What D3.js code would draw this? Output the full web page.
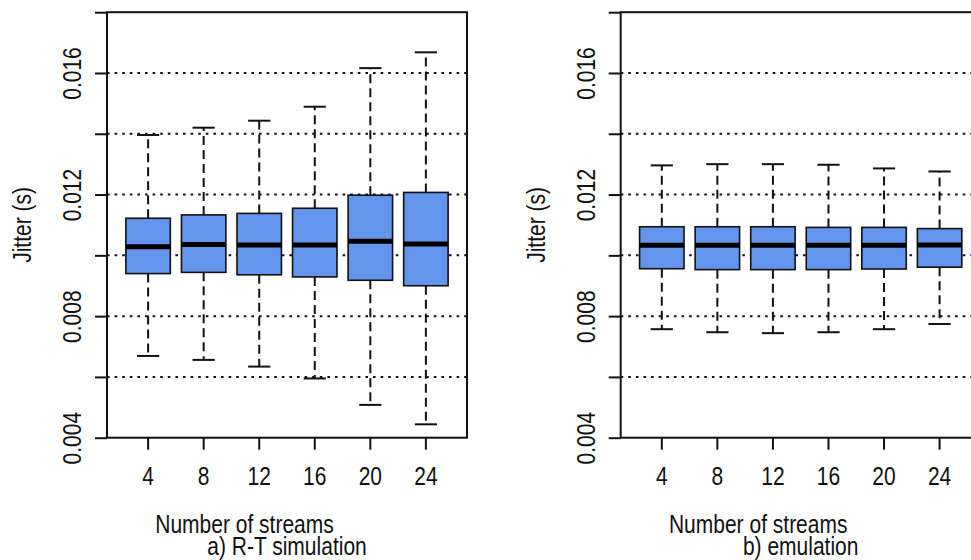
<!DOCTYPE html>
<html>
<head>
<meta charset="utf-8">
<script src="https://cdn.jsdelivr.net/npm/d3@7"></script>
<style>
  html, body { margin: 0; padding: 0; background: #fff; }
  svg { display: block; }
  text { font-family: "Liberation Sans Narrow", "Arial Narrow", "Liberation Sans", Arial, sans-serif; fill: #111; }
</style>
</head>
<body>
<svg id="chart" width="971" height="560"></svg>
<script>
// Number of concurrent streams (x categories)
const streams = [4, 8, 12, 16, 20, 24];

// a) R-T simulation: whisker ends, quartiles and median of jitter (s)
const rtLow  = [0.00669, 0.00656, 0.00634, 0.00595, 0.00508, 0.00444];
const rtQ1   = [0.00940, 0.00944, 0.00936, 0.00929, 0.00918, 0.00900];
const rtMed  = [0.01028, 0.01036, 0.01034, 0.01034, 0.01046, 0.01037];
const rtQ3   = [0.01122, 0.01133, 0.01138, 0.01155, 0.01198, 0.01207];
const rtHigh = [0.01396, 0.01420, 0.01443, 0.01489, 0.01616, 0.01668];

// b) emulation
const emLow  = [0.00757, 0.00747, 0.00744, 0.00747, 0.00757, 0.00774];
const emQ1   = [0.00956, 0.00953, 0.00953, 0.00953, 0.00955, 0.00961];
const emMed  = [0.01033, 0.01033, 0.01033, 0.01033, 0.01033, 0.01034];
const emQ3   = [0.01094, 0.01094, 0.01094, 0.01092, 0.01092, 0.01088];
const emHigh = [0.01296, 0.01300, 0.01300, 0.01298, 0.01286, 0.01276];

// y axis ticks; only every other one carries a label
const yTicks  = [0.004, 0.006, 0.008, 0.010, 0.012, 0.014, 0.016, 0.018];
const yLabels = [0.004, 0.008, 0.012, 0.016];
const gridVals = [0.006, 0.008, 0.010, 0.012, 0.014, 0.016];

const xLabel = "Number of streams";
const yLabel = "Jitter (s)";
const panels = [
  { title: "a) R-T simulation", left: 107, low: rtLow, q1: rtQ1, med: rtMed, q3: rtQ3, high: rtHigh },
  { title: "b) emulation",      left: 620.7, low: emLow, q1: emQ1, med: emMed, q3: emQ3, high: emHigh }
];

const svg = d3.select("#chart");
const plotW = 360, plotTop = 12.2, plotBottom = 437.7;
const boxFill = "#6495ED";
const ink = "#111";
const fontSize = 25;

// squeeze glyphs horizontally to get a narrow sans look
function condense(sel) {
  sel.each(function () {
    const len = this.getComputedTextLength();
    if (len > 0) {
      d3.select(this)
        .attr("textLength", len * 0.84)
        .attr("lengthAdjust", "spacingAndGlyphs");
    }
  });
}

const y = d3.scaleLinear().domain([0.004, 0.018]).range([plotBottom, plotTop]);

panels.forEach(p => {
  const x = d3.scaleBand()
    .domain(streams)
    .range([p.left, p.left + plotW])
    .paddingInner(0.2)
    .paddingOuter(0.34);
  const bw = x.bandwidth();
  const cx = s => x(s) + bw / 2;

  const g = svg.append("g");

  // dotted horizontal grid
  g.selectAll("line.grid").data(gridVals).join("line")
    .attr("class", "grid")
    .attr("x1", p.left).attr("x2", p.left + plotW)
    .attr("y1", d => y(d)).attr("y2", d => y(d))
    .attr("stroke", ink).attr("stroke-width", 2)
    .attr("stroke-dasharray", "2.6,5");

  const rows = streams.map((s, i) => ({
    s, low: p.low[i], q1: p.q1[i], med: p.med[i], q3: p.q3[i], high: p.high[i]
  }));

  const bx = g.selectAll("g.box").data(rows).join("g").attr("class", "box");

  // dashed whiskers
  bx.append("line")
    .attr("x1", d => cx(d.s)).attr("x2", d => cx(d.s))
    .attr("y1", d => y(d.q3)).attr("y2", d => y(d.high))
    .attr("stroke", ink).attr("stroke-width", 2).attr("stroke-dasharray", "9,5");
  bx.append("line")
    .attr("x1", d => cx(d.s)).attr("x2", d => cx(d.s))
    .attr("y1", d => y(d.q1)).attr("y2", d => y(d.low))
    .attr("stroke", ink).attr("stroke-width", 2).attr("stroke-dasharray", "9,5");

  // whisker caps
  ["low", "high"].forEach(k => {
    bx.append("line")
      .attr("x1", d => cx(d.s) - bw / 4).attr("x2", d => cx(d.s) + bw / 4)
      .attr("y1", d => y(d[k])).attr("y2", d => y(d[k]))
      .attr("stroke", ink).attr("stroke-width", 2);
  });

  // interquartile boxes
  bx.append("rect")
    .attr("x", d => x(d.s)).attr("width", bw)
    .attr("y", d => y(d.q3)).attr("height", d => y(d.q1) - y(d.q3))
    .attr("fill", boxFill).attr("stroke", ink).attr("stroke-width", 1.6);

  // medians
  bx.append("line")
    .attr("x1", d => x(d.s)).attr("x2", d => x(d.s) + bw)
    .attr("y1", d => y(d.med)).attr("y2", d => y(d.med))
    .attr("stroke", "#000").attr("stroke-width", 5);

  // plot frame
  g.append("rect")
    .attr("x", p.left).attr("y", plotTop)
    .attr("width", plotW).attr("height", plotBottom - plotTop)
    .attr("fill", "none").attr("stroke", ink).attr("stroke-width", 2);

  // y axis
  const yAxis = d3.axisLeft(y)
    .tickValues(yTicks)
    .tickSize(12)
    .tickSizeOuter(0)
    .tickFormat(d => yLabels.some(v => Math.abs(v - d) < 1e-9) ? d3.format(".3f")(d) : "");
  const ya = g.append("g").attr("transform", `translate(${p.left},0)`).call(yAxis);
  ya.attr("font-family", null).attr("font-size", null);
  ya.select(".domain").remove();
  ya.selectAll(".tick line").attr("stroke", ink).attr("stroke-width", 2);
  ya.selectAll(".tick text")
    .attr("transform", "rotate(-90)")
    .attr("x", 0).attr("y", -26).attr("dy", 0)
    .attr("text-anchor", "middle")
    .attr("font-size", fontSize)
    .attr("fill", ink)
    .call(condense);

  // x axis
  const xAxis = d3.axisBottom(x).tickSize(12).tickSizeOuter(0);
  const xa = g.append("g").attr("transform", `translate(0,${plotBottom})`).call(xAxis);
  xa.attr("font-family", null).attr("font-size", null);
  xa.select(".domain").remove();
  xa.selectAll(".tick line").attr("stroke", ink).attr("stroke-width", 2);
  xa.selectAll(".tick text")
    .attr("y", 47.5).attr("dy", 0)
    .attr("font-size", fontSize)
    .attr("fill", ink)
    .call(condense);

  // axis titles
  g.append("text")
    .attr("transform", `translate(${p.left - 76},${(plotTop + plotBottom) / 2}) rotate(-90)`)
    .attr("text-anchor", "middle")
    .attr("font-size", fontSize)
    .text(yLabel)
    .call(condense);

  const mid = p.left + plotW / 2;
  g.append("text")
    .attr("x", mid - 42.5).attr("y", 533)
    .attr("text-anchor", "middle")
    .attr("font-size", fontSize)
    .text(xLabel)
    .call(condense);
  g.append("text")
    .attr("x", mid).attr("y", 555)
    .attr("text-anchor", "middle")
    .attr("font-size", fontSize)
    .text(p.title)
    .call(condense);
});
</script>
</body>
</html>
